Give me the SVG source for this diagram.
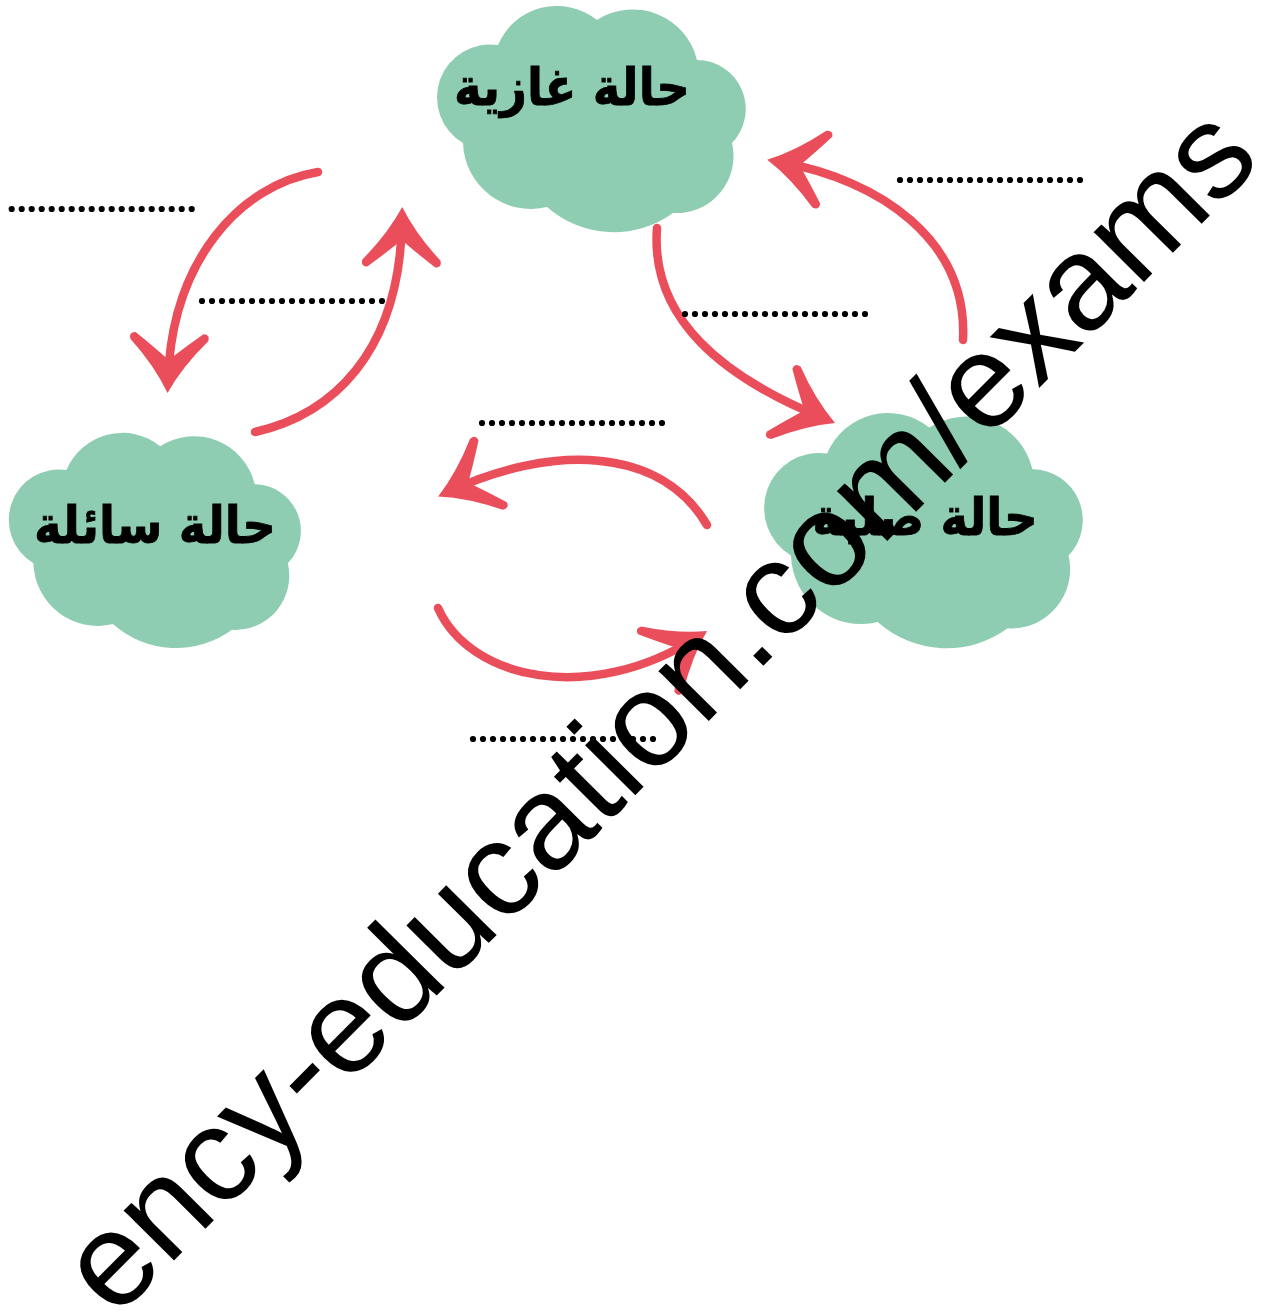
<svg xmlns="http://www.w3.org/2000/svg" width="1266" height="1314" viewBox="0 0 1266 1314">
<style>
.cloud{fill:#8ecdb1}
.lbl{font-family:"DejaVu Sans","Noto Sans",sans-serif;font-weight:bold;font-size:52px;fill:#000;stroke:#000;stroke-width:0.8;text-anchor:middle}
.arrow{fill:none;stroke:#e94e5a;stroke-width:8.5;stroke-linecap:round;marker-end:url(#head)}
.dot{fill:#000}
.wm{font-family:"Liberation Sans",Arial,sans-serif;font-size:134px;fill:#000}
</style>
<defs>
<path id="cloudShape" d="M65,40 A64,64 0 0 1 164,15 A66,66 0 0 1 264,55 A49,49 0 0 1 299,138 A57,57 0 0 1 240,208 A101,101 0 0 1 114,202 A68,68 0 0 1 30,138 A53,53 0 0 1 65,40 Z"/>
<marker id="head" markerUnits="userSpaceOnUse" orient="auto" markerWidth="90" markerHeight="90" refX="0" refY="0" viewBox="-60 -45 90 90" overflow="visible">
<path d="M13,0 Q-14,-14 -40,-39 Q-47,-41 -47,-34 Q-32,-14 -20,0 Q-32,14 -47,34 Q-47,41 -40,39 Q-14,14 13,0 Z" fill="#e94e5a"/>
</marker>
<g id="dotrow">
<circle class="dot" cx="0" cy="0" r="3.1"/><circle class="dot" cx="10" cy="0" r="3.1"/><circle class="dot" cx="20" cy="0" r="3.1"/><circle class="dot" cx="30" cy="0" r="3.1"/><circle class="dot" cx="40" cy="0" r="3.1"/><circle class="dot" cx="50" cy="0" r="3.1"/><circle class="dot" cx="60" cy="0" r="3.1"/><circle class="dot" cx="70" cy="0" r="3.1"/><circle class="dot" cx="80" cy="0" r="3.1"/><circle class="dot" cx="90" cy="0" r="3.1"/><circle class="dot" cx="100" cy="0" r="3.1"/><circle class="dot" cx="110" cy="0" r="3.1"/><circle class="dot" cx="120" cy="0" r="3.1"/><circle class="dot" cx="130" cy="0" r="3.1"/><circle class="dot" cx="140" cy="0" r="3.1"/><circle class="dot" cx="150" cy="0" r="3.1"/><circle class="dot" cx="160" cy="0" r="3.1"/><circle class="dot" cx="170" cy="0" r="3.1"/><circle class="dot" cx="180" cy="0" r="3.1"/>
</g>
</defs>
<rect width="1266" height="1314" fill="#fff"/>
<g id="connectors">
<path class="arrow" d="M318,172 C240,185 172,260 168,380"/>
<path class="arrow" d="M255,432 C330,415 400,355 402,220"/>
<path class="arrow" d="M657,228 C650,320 725,378 823,418"/>
<path class="arrow" d="M963,340 C968,240 880,180 780,162"/>
<path class="arrow" d="M707,525 C660,445 550,445 450,491"/>
<path class="arrow" d="M438,608 C470,680 590,705 696,638"/>
</g>
<g id="node-gas">
<use href="#cloudShape" class="cloud" transform="translate(433,5)"/>
<text class="lbl" transform="translate(572,105) scale(0.9,1)">حالة غازية</text>
</g>
<g id="node-liquid">
<use href="#cloudShape" class="cloud" transform="translate(5,432) scale(0.946,0.951)"/>
<text class="lbl" transform="translate(155,543) scale(0.9,1)">حالة سائلة</text>
</g>
<g id="node-solid">
<use href="#cloudShape" class="cloud" transform="translate(760,412) scale(1.032,1.04)"/>
<text class="lbl" transform="translate(925,535) scale(0.9,1)">حالة صلبة</text>
</g>
<g id="blanks">
<use href="#dotrow" x="11.7" y="209"/>
<use href="#dotrow" x="202" y="301"/>
<use href="#dotrow" x="900" y="180"/>
<use href="#dotrow" x="685" y="314"/>
<use href="#dotrow" x="482" y="423"/>
<use href="#dotrow" x="473" y="739"/>
</g>
<text class="wm" transform="translate(115,1320) rotate(-45.25)">ency-education.com/exams</text>
</svg>
